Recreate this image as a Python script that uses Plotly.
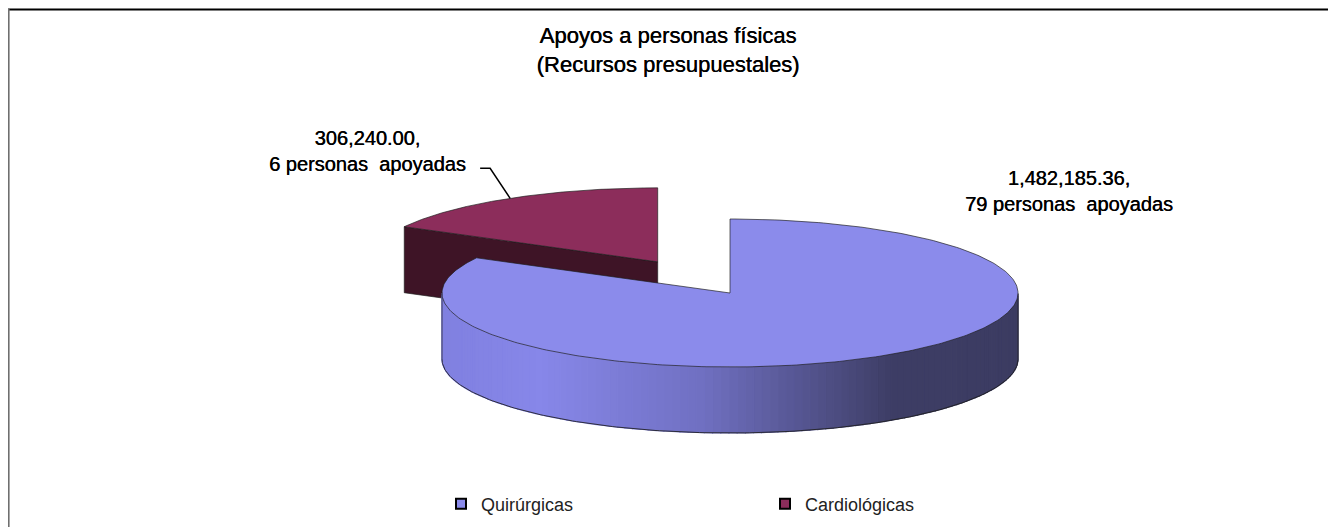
import numpy as np
import plotly.graph_objects as go

# ---------------- data ----------------
categories = ["Quirúrgicas", "Cardiológicas"]
amounts = [1482185.36, 306240.00]
people = [79, 6]
title_lines = ["Apoyos a personas físicas", "(Recursos presupuestales)"]

# ---------------- style / layout constants ----------------
top_colors = ["#8B8BEB", "#8C2D5B"]
side_colors = ["#3C3C64", "#3E1426"]
W, H = 1336, 527           # window size
OFF = 8                    # default page body margin
CX, CY = 730, 293          # centre of the pie's top face (page px)
RX, RY = 288, 74           # ellipse radii of the tilted pie
DEPTH = 66                 # thickness of the pie
EXPLODE = [0.0, 0.49]      # explosion as fraction of radius
START = 90.0               # first slice starts at 12 o'clock, clockwise
FONT = "Liberation Sans, Arial, sans-serif"
EDGE = "rgba(30,30,30,0.85)"
FW, FH = W - OFF, H - OFF  # figure size

total = sum(amounts)
fracs = [a / total for a in amounts]
ranges = []
a0 = START
for f in fracs:
    a1 = a0 - 360.0 * f
    ranges.append((a0, a1))
    a0 = a1


def centre(i):
    s, e = ranges[i]
    mid = np.radians((s + e) / 2)
    return (CX + EXPLODE[i] * RX * np.cos(mid), CY - EXPLODE[i] * RY * np.sin(mid))


def pt(c, ang_deg, dy=0.0):
    a = np.radians(ang_deg)
    return c[0] + RX * np.cos(a), c[1] - RY * np.sin(a) + dy


def lerp_col(x):
    t = (x - (CX - RX)) / (2 * RX)
    stops = [(0.0, (128, 128, 224)), (0.17, (135, 135, 233)), (0.45, (112, 112, 194)),
             (0.78, (61, 61, 101)), (1.0, (60, 60, 98))]
    t = min(max(t, 0), 1)
    for (t0, c0), (t1, c1) in zip(stops[:-1], stops[1:]):
        if t0 <= t <= t1:
            u = (t - t0) / (t1 - t0)
            c = [round(c0[k] + (c1[k] - c0[k]) * u) for k in range(3)]
            return "rgb(%d,%d,%d)" % tuple(c)
    return "rgb(60,60,98)"


fig = go.Figure()


def poly(xs, ys, fill, line_col=None, lw=0.0):
    fig.add_trace(go.Scatter(
        x=list(xs) + [xs[0]], y=list(ys) + [ys[0]], mode="lines", fill="toself",
        fillcolor=fill, line=dict(color=line_col or fill, width=lw),
        hoverinfo="skip", showlegend=False))


def line(xs, ys, col=EDGE, lw=1.0):
    fig.add_trace(go.Scatter(x=xs, y=ys, mode="lines", line=dict(color=col, width=lw),
                             hoverinfo="skip", showlegend=False))


# draw back slice (exploded, Cardiológicas) first, then the big slice
order = [1, 0]
for i in order:
    c = centre(i)
    s, e = ranges[i]
    # radial side faces
    for edge_ang, normal in ((s, s + 90), (e, e - 90)):
        if np.sin(np.radians(normal)) < -1e-6:
            px, py = pt(c, edge_ang)
            xs = [c[0], px, px, c[0]]
            ys = [c[1], py, py + DEPTH, c[1] + DEPTH]
            poly(xs, ys, side_colors[i], EDGE, 0.8)
    # outer curved wall (front part only), as shaded strips
    angs = np.linspace(s, e, 400)
    vis = [a for a in angs if np.sin(np.radians(a)) < 0]
    if vis:
        vis = np.array(vis)
        n = 110
        edges = np.linspace(vis[0], vis[-1], n + 1)
        for k in range(n):
            aa, bb = edges[k], edges[k + 1]
            xa, ya = pt(c, aa)
            xb, yb = pt(c, bb)
            col = lerp_col((xa + xb) / 2) if i == 0 else side_colors[i]
            poly([xa, xb, xb, xa], [ya, yb, yb + DEPTH, ya + DEPTH], col, col, 1.2)
        bx, by = zip(*[pt(c, a, DEPTH) for a in np.linspace(vis[0], vis[-1], 200)])
        line(list(bx), list(by), EDGE, 1.0)
        for a in (vis[0], vis[-1]):
            x1, y1 = pt(c, a)
            line([x1, x1], [y1, y1 + DEPTH], EDGE, 0.8)
    # top face
    arc = np.linspace(s, e, 300)
    tx, ty = zip(*[pt(c, a) for a in arc])
    poly([c[0]] + list(tx), [c[1]] + list(ty), top_colors[i], EDGE, 0.8)

# legend entries
for i, name in enumerate(categories):
    fig.add_trace(go.Scatter(
        x=[None], y=[None], mode="markers", name=name,
        marker=dict(symbol="square", size=10, color=top_colors[i],
                    line=dict(color="black", width=2)), hoverinfo="skip"))

# data labels
labels = [f"{amounts[i]:,.2f},<br>{people[i]} personas\u00a0 apoyadas" for i in range(len(amounts))]
# Cardiológicas: leader line from the arc midpoint
c1 = centre(1)
s1, e1 = ranges[1]
P = pt(c1, (s1 + e1) / 2)
line([P[0], P[0] - 20, P[0] - 30], [P[1], P[1] - 30, P[1] - 30], "black", 1.5)
annotations = [
    dict(x=P[0] - 143, y=P[1] - 47, text=labels[1]),
    dict(x=1069, y=191, text=labels[0]),
]
TXT_FONT = dict(family=FONT, size=20, color="black", shadow="0.4px 0px 0px #000")
for a in annotations:
    a.update(xref="x", yref="y", showarrow=False, xanchor="center", yanchor="middle",
             align="center", font=TXT_FONT)

# chart frame lines (top and left border)
shapes = [
    dict(type="line", xref="x", yref="y", x0=OFF, x1=W, y0=9.5, y1=9.5,
         line=dict(color="black", width=2)),
    dict(type="line", xref="x", yref="y", x0=OFF + 0.8, x1=OFF + 0.8, y0=9, y1=H,
         line=dict(color="#6f6f6f", width=1.6)),
]

fig.update_layout(
    width=FW, height=FH, margin=dict(l=0, r=0, t=0, b=0),
    paper_bgcolor="white", plot_bgcolor="white",
    title=dict(text="<br>".join(title_lines), x=(668 - OFF) / FW, xanchor="center",
               y=1 - 35 / FH, yanchor="top",
               font=dict(family=FONT, size=22, color="black", shadow="0.4px 0px 0px #000")),
    xaxis=dict(range=[OFF, W], visible=False, fixedrange=True),
    yaxis=dict(range=[H, OFF], visible=False, fixedrange=True),
    showlegend=True,
    legend=dict(orientation="h", x=(441 - OFF) / FW, xanchor="left",
                y=1 - (504 - OFF) / FH, yanchor="middle",
                entrywidth=279, entrywidthmode="pixels", itemwidth=30,
                font=dict(family=FONT, size=18, color="#222222"),
                bgcolor="rgba(0,0,0,0)"),
    annotations=annotations,
    shapes=shapes,
)

fig.write_html("out.html")
